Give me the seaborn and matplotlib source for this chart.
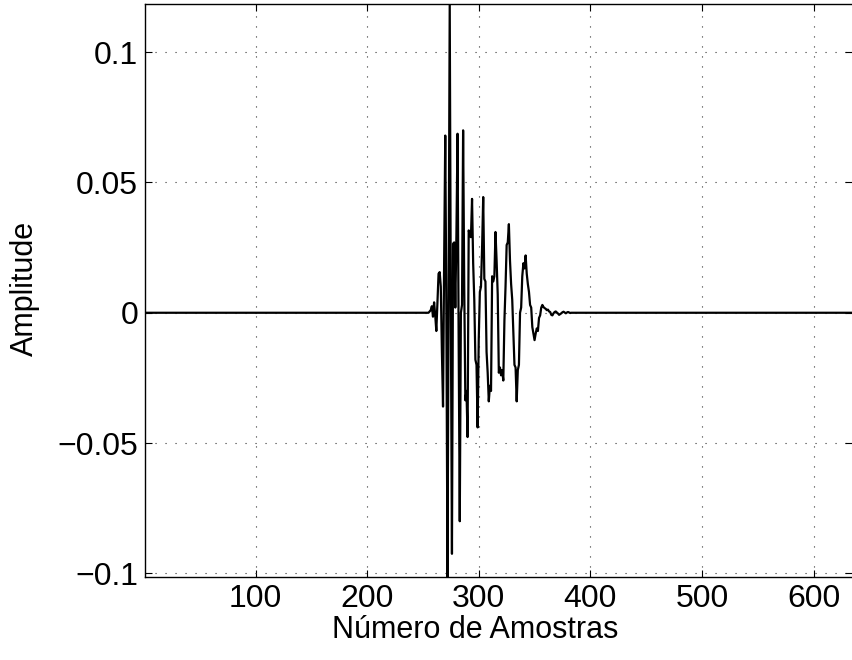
import numpy as np
import pandas as pd
import matplotlib
matplotlib.use("Agg")
import matplotlib.pyplot as plt
import seaborn as sns

# Sample axis and recorded signal (quiet before sample 255 and after ~383)
n_samples = 640
burst_start = 255
burst_values = [
    0.0, 0.0005, 0.001, 0.0025, -0.0015, 0.004, -0.001, -0.007, 0.004, 0.0150,
    0.0156, 0.010, -0.015, -0.036, 0.020, 0.068, 0.000, -0.1014, 0.010, 0.1186,
    0.000, -0.0925, 0.0265, 0.027, 0.002, 0.030, 0.0687, -0.010, -0.080, 0.000,
    0.003, 0.070, 0.010, -0.0336, -0.030, -0.0477, 0.0316, 0.030, 0.029, 0.0437,
    0.019, 0.005, -0.018, -0.020, -0.044, -0.010, 0.008, 0.010, 0.025, 0.0444,
    0.013, 0.012, -0.015, -0.023, -0.034, -0.028, -0.030, 0.014, 0.012, 0.014,
    0.031, 0.020, 0.007, -0.023, -0.021, -0.024, -0.022, -0.026, -0.003, 0.010,
    0.026, 0.027, 0.034, 0.020, 0.011, 0.005, -0.008, -0.020, -0.021, -0.034,
    -0.022, -0.020, 0.000, 0.002, 0.014, 0.019, 0.017, 0.022, 0.015, 0.011,
    0.008, 0.003, 0.002, -0.0055, -0.008, -0.0105, -0.008, -0.006, -0.007, -0.002,
    -0.001, 0.002, 0.003, 0.0022, 0.0018, 0.0015, 0.0010, 0.0012, 0.0005, 0.0003,
    -0.0008, -0.001, -0.0002, 0.0003, 0.0005, 0.0001, -0.0003, -0.0008, -0.0005, -0.0002,
    0.0002, 0.0004, 0.0001, -0.0002, 0.0001, 0.0003, 0.0001, -0.0001, 0.0, 0.0,
]

x_ticks = [100, 200, 300, 400, 500, 600]
y_ticks = [-0.1, -0.05, 0, 0.05, 0.1]
y_tick_labels = ["\u22120.1", "\u22120.05", "0", "0.05", "0.1"]

samples = np.arange(1, n_samples + 1)
amplitude = np.zeros(n_samples)
amplitude[burst_start - 1:burst_start - 1 + len(burst_values)] = burst_values
df = pd.DataFrame({"sample": samples, "amplitude": amplitude})

sns.set_theme(style="white")
plt.rcParams["font.family"] = ["Liberation Sans", "DejaVu Sans"]

W, H = 852, 660
fig = plt.figure(figsize=(W / 100, H / 100), dpi=100)
ax_left, ax_top, ax_bottom = 145, 3.7, 577
x_lo, x_hi = 1, 634.4
ax_w, ax_h = W - ax_left, ax_bottom - ax_top
ax = fig.add_axes([ax_left / W, (H - ax_bottom) / H, ax_w / W, ax_h / H])

sns.lineplot(data=df, x="sample", y="amplitude", ax=ax, color="black",
             linewidth=1.6, estimator=None, errorbar=None)

ax.set_xlim(x_lo, x_hi)
ax.set_ylim(min(burst_values), max(burst_values))
ax.set_xticks(x_ticks)
ax.set_yticks(y_ticks)
ax.set_yticklabels(y_tick_labels)

ax.grid(True, color="0.2", linewidth=0.8, linestyle=(0, (1, 8)))
for side in ("left", "top", "bottom"):
    ax.spines[side].set_color("black")
    ax.spines[side].set_linewidth(1.0)
ax.spines["right"].set_visible(False)
ax.tick_params(direction="in", length=5, width=0.8, colors="black",
               top=True, right=True, left=True, bottom=True,
               labelsize=23, pad=5)

ax.set_xlabel("Número de Amostras", fontsize=22, color="black")
ax.set_ylabel("Amplitude", fontsize=22, color="black")
ax.xaxis.set_label_coords((475 - ax_left) / ax_w, (ax_bottom - 615) / ax_h)
ax.yaxis.set_label_coords((40 - ax_left) / ax_w, (ax_bottom - 288) / ax_h)

fig.savefig("out.png", dpi=100)
